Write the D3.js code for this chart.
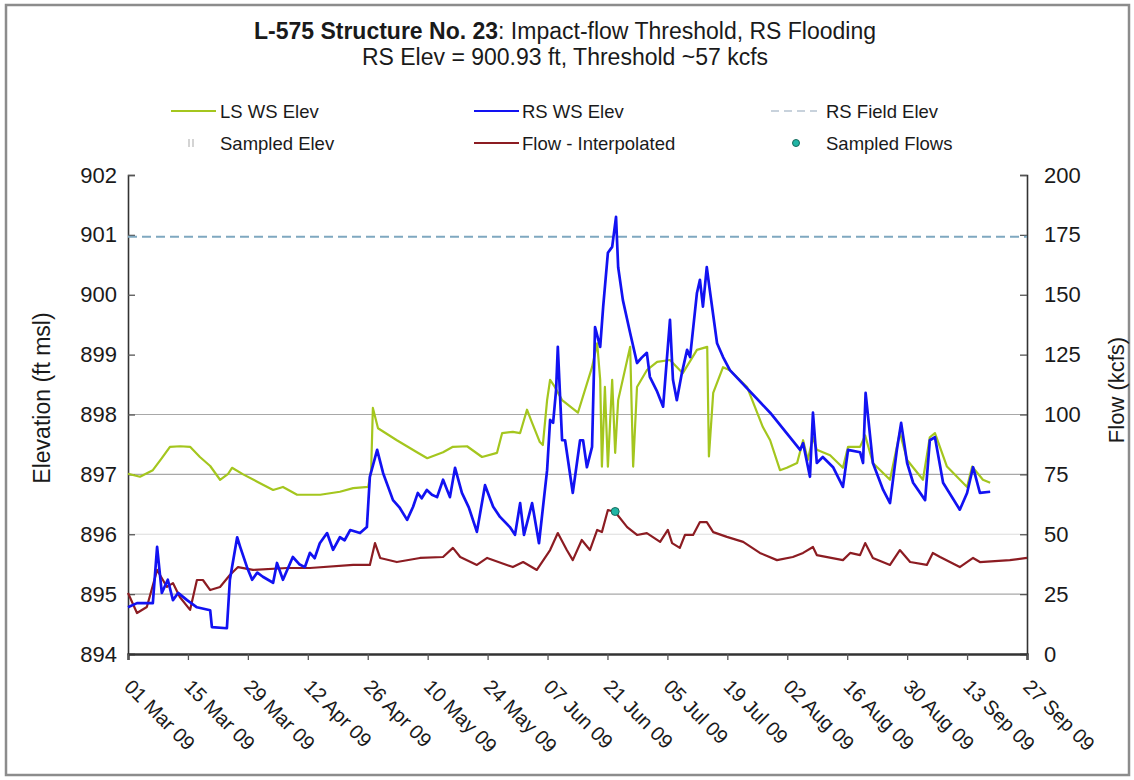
<!DOCTYPE html>
<html><head><meta charset="utf-8">
<script src="https://cdn.jsdelivr.net/npm/d3@7"></script>
<style>
body{margin:0;background:#fff;}
text{font-family:Arial,"Liberation Sans",sans-serif;fill:#1a1a1a;}
</style>
</head><body>
<svg id="chart" width="1134" height="780"></svg>
<script>
// ---------- DATA (day offsets from 01 Mar 2009) ----------
const startDate = Date.UTC(2009, 2, 1);
const tickLabels = ["01 Mar 09","15 Mar 09","29 Mar 09","12 Apr 09","26 Apr 09","10 May 09","24 May 09","07 Jun 09","21 Jun 09","05 Jul 09","19 Jul 09","02 Aug 09","16 Aug 09","30 Aug 09","13 Sep 09","27 Sep 09"];
const tickDays = [0,14,28,42,56,70,84,98,112,126,140,154,168,182,196,210];
const elevTicks = [894,895,896,897,898,899,900,901,902];
const flowTicks = [0,25,50,75,100,125,150,175,200];
const gridElev = [895,896,897,898];
const rsFieldElev = 900.97;

const lsWsElev = [[0,897.01],[2.8,896.96],[5.8,897.07],[7.9,897.27],[9.8,897.46],[12.2,897.47],[14.5,897.46],[16.8,897.29],[19.2,897.14],[21.5,896.91],[23.4,897.01],[24.3,897.11],[26.9,897.0],[30.4,896.87],[33.9,896.74],[36.2,896.79],[39.5,896.66],[44.9,896.66],[49.5,896.71],[52.6,896.77],[56.1,896.79],[56.8,897.07],[57.2,898.11],[58.4,897.77],[62.8,897.57],[67.5,897.37],[69.9,897.27],[73.6,897.37],[75.9,897.46],[79.2,897.47],[82.7,897.29],[86.2,897.36],[87.4,897.69],[89.9,897.71],[91.6,897.69],[93.2,898.08],[94.4,897.86],[96.2,897.54],[96.9,897.49],[97.9,898.24],[98.6,898.58],[99.7,898.46],[101.4,898.24],[105.1,898.03],[108.4,898.79],[109.6,899.19],[110.3,898.58],[110.7,897.13],[111.4,898.46],[112.1,897.13],[113.1,898.58],[113.8,897.36],[114.5,898.24],[117.3,899.13],[118.0,897.13],[118.9,898.46],[121.2,898.74],[123.6,898.88],[126.6,898.91],[129.6,898.69],[132.9,899.08],[135.3,899.13],[135.7,897.3],[136.7,898.36],[139.0,898.79],[140.6,898.74],[144.6,898.46],[148.3,897.79],[150.0,897.57],[152.3,897.07],[153.9,897.11],[156.3,897.19],[157.7,897.57],[158.8,897.24],[160.0,897.62],[160.9,897.41],[164.0,897.32],[167.0,897.11],[168.2,897.46],[171.0,897.46],[172.2,897.65],[174.0,897.19],[178.0,896.91],[180.3,897.7],[182.0,897.24],[185.7,896.91],[187.3,897.62],[188.5,897.69],[191.3,897.13],[196.0,896.79],[197.2,897.13],[199.7,896.91],[201.4,896.86]];

const rsWsElev = [[0,894.78],[2.1,894.85],[5.8,894.85],[6.8,895.79],[7.9,895.02],[9.3,895.24],[10.5,894.9],[11.7,895.02],[13.8,894.9],[16.1,894.78],[19.2,894.73],[19.6,894.45],[23.1,894.43],[23.8,895.24],[25.5,895.95],[26.2,895.79],[27.8,895.45],[29.0,895.24],[30.2,895.36],[31.5,895.29],[33.9,895.19],[34.8,895.52],[36.2,895.24],[38.5,895.62],[40.0,895.5],[41.3,895.45],[42.5,895.69],[43.6,895.6],[44.8,895.85],[46.5,896.02],[47.9,895.74],[49.5,895.95],[50.6,895.9],[51.9,896.07],[54.2,896.02],[55.8,896.12],[56.5,896.96],[58.2,897.41],[59.6,897.02],[61.9,896.57],[63.4,896.45],[65.2,896.24],[66.6,896.46],[67.7,896.69],[68.6,896.6],[69.8,896.74],[71.0,896.66],[72.2,896.62],[73.6,896.91],[75.2,896.62],[76.4,897.11],[78.0,896.69],[79.6,896.45],[81.5,896.04],[83.4,896.82],[85.3,896.46],[86.9,896.29],[89.2,896.12],[90.4,895.99],[91.6,896.52],[92.5,895.99],[94.4,896.52],[96.0,895.85],[97.9,897.07],[98.6,897.91],[99.3,897.86],[100.0,898.41],[100.4,899.13],[101.4,897.57],[102.1,897.57],[103.9,896.69],[105.6,897.57],[106.3,897.57],[107.2,897.12],[108.4,897.46],[109.1,899.46],[110.3,899.13],[111.0,899.8],[112.1,900.7],[113.1,900.8],[114.0,901.3],[114.5,900.46],[115.6,899.91],[117.3,899.36],[118.9,898.86],[120.0,898.95],[121.2,899.03],[121.9,898.63],[123.5,898.4],[125.0,898.13],[126.6,899.58],[127.3,898.58],[128.2,898.24],[129.4,898.7],[130.6,899.08],[131.3,898.96],[132.9,900.03],[133.6,900.25],[134.3,899.8],[135.2,900.46],[135.9,900.08],[137.6,899.19],[139.0,898.96],[140.6,898.74],[150.0,898.03],[157.0,897.41],[157.7,897.52],[159.3,896.96],[160.0,898.03],[160.9,897.19],[162.3,897.29],[164.7,897.12],[167.0,896.79],[168.2,897.41],[171.0,897.37],[171.7,897.19],[172.3,898.36],[174.0,897.19],[176.4,896.74],[178.0,896.52],[179.6,897.41],[180.6,897.86],[182.0,897.19],[183.4,896.86],[186.2,896.57],[187.3,897.57],[188.5,897.62],[190.4,896.86],[194.3,896.41],[196.0,896.69],[197.4,897.12],[199.0,896.69],[201.4,896.71]];

const flowInterp = [[0,25.5],[2.1,17.1],[4.4,19.6],[6.8,35.1],[9.1,28.0],[10.5,29.6],[12.1,23.8],[14.5,18.4],[16.1,30.9],[17.5,30.9],[19.2,26.7],[21.5,28.0],[23.8,33.0],[25.7,36.3],[29.2,35.1],[37.1,35.9],[42.5,35.9],[52.6,37.2],[56.5,37.2],[57.7,46.3],[58.9,40.1],[62.8,38.4],[68.2,40.1],[73.6,40.5],[75.9,44.3],[77.6,40.5],[81.5,37.2],[83.9,40.1],[89.9,36.3],[92.3,38.4],[95.5,35.1],[98.6,43.4],[100.4,50.5],[102.5,43.4],[103.9,39.2],[106.0,47.6],[107.9,43.4],[109.6,51.8],[110.7,50.9],[112.1,60.1],[113.8,59.3],[116.6,53.0],[118.9,49.7],[121.2,50.5],[124.3,46.8],[126.1,51.8],[127.1,46.3],[128.9,44.3],[130.1,49.7],[132.0,49.7],[133.6,55.1],[135.2,55.1],[136.7,50.9],[139.9,48.9],[143.7,46.8],[147.6,42.2],[151.6,39.2],[155.3,40.5],[157.7,42.2],[160.0,44.7],[160.9,41.3],[167.0,39.2],[168.7,42.2],[171.0,41.3],[172.2,46.3],[174.0,40.1],[178.0,37.2],[180.3,43.4],[182.7,38.4],[186.6,37.2],[188.0,42.2],[189.7,40.5],[194.3,36.3],[197.4,40.1],[199.0,38.4],[206.0,39.2],[210,40.1]];

const sampledFlows = [[113.8,59.5]];
const sampledElev = [];

const titleBold = "L-575 Structure No. 23";
const titleRest = ": Impact-flow Threshold, RS Flooding";
const subtitle = "RS Elev = 900.93 ft, Threshold ~57 kcfs";

// ---------- COLORS ----------
const cLS = "#a4c61e", cRS = "#1212f2", cFlow = "#8c1c22", cField = "#7fa8c0", cSamp = "#20b5a5";

const svg = d3.select("#chart");
const toDate = d => new Date(startDate + d * 864e5);
const M = {l:128, r:1027, t:175, b:654};
const x = d3.scaleUtc().domain([toDate(0), toDate(210)]).range([M.l, M.r]);
const yL = d3.scaleLinear().domain([894, 902]).range([M.b, M.t]);
const yR = d3.scaleLinear().domain([0, 200]).range([M.b, M.t]);

// frame
svg.append("rect").attr("x",6).attr("y",5).attr("width",1123).attr("height",770)
  .attr("fill","#fff").attr("stroke","#8c8c8c").attr("stroke-width",2.5);

// title
const t1 = svg.append("text").attr("x",565).attr("y",39).attr("text-anchor","middle").style("font-size","23px");
t1.append("tspan").attr("font-weight","bold").text(titleBold);
t1.append("tspan").text(titleRest);
svg.append("text").attr("x",565).attr("y",65).attr("text-anchor","middle").style("font-size","23px").text(subtitle);

// gridlines
svg.append("g").selectAll("line").data(gridElev).join("line")
  .attr("x1",M.l).attr("x2",M.r).attr("y1",d=>yL(d)).attr("y2",d=>yL(d))
  .attr("stroke",d=>d===896?"#dcdcdc":"#a8a8a8").attr("stroke-width",1.2);

// axes
const axL = svg.append("g").attr("transform",`translate(${M.l},0)`)
  .call(d3.axisLeft(yL).tickValues(elevTicks).tickSize(-7).tickPadding(11).tickFormat(d3.format("d")));
const axR = svg.append("g").attr("transform",`translate(${M.r},0)`)
  .call(d3.axisRight(yR).tickValues(flowTicks).tickSize(-7).tickPadding(17).tickFormat(d3.format("d")));
const axB = svg.append("g").attr("transform",`translate(0,${M.b})`)
  .call(d3.axisBottom(x).tickValues(tickDays.map(toDate)).tickSize(6).tickFormat(""));
[axL,axR,axB].forEach(a=>{
  a.select(".domain").attr("stroke","#333").attr("stroke-width",1.6);
  a.selectAll(".tick line").attr("stroke","#555").attr("stroke-width",1.3);
  a.selectAll("text").style("font-size","22px").attr("fill","#1a1a1a").style("font-family","Arial, 'Liberation Sans', sans-serif");
});
axB.select(".domain").attr("stroke-width",2.4);

// bottom rotated labels
svg.append("g").selectAll("text").data(tickDays).join("text")
  .attr("transform",(d)=>`translate(${x(toDate(d))-5},${M.b+34}) rotate(45)`)
  .style("font-size","20px").text((d,i)=>tickLabels[i]);

// axis titles
svg.append("text").attr("transform","translate(50,398) rotate(-90)").attr("text-anchor","middle")
  .style("font-size","23px").text("Elevation (ft msl)");
svg.append("text").attr("transform","translate(1124,390) rotate(-90)").attr("text-anchor","middle")
  .style("font-size","22px").text("Flow (kcfs)");

// series
const lineL = d3.line().x(d=>x(toDate(d[0]))).y(d=>yL(d[1]));
const lineR = d3.line().x(d=>x(toDate(d[0]))).y(d=>yR(d[1]));

svg.append("line").attr("x1",M.l).attr("x2",M.r).attr("y1",yL(rsFieldElev)).attr("y2",yL(rsFieldElev))
  .attr("stroke",cField).attr("stroke-width",2).attr("stroke-dasharray","9,5");

svg.append("path").datum(flowInterp).attr("d",lineR).attr("fill","none").attr("stroke",cFlow).attr("stroke-width",2.2).attr("stroke-linejoin","round");
svg.append("path").datum(lsWsElev).attr("d",lineL).attr("fill","none").attr("stroke",cLS).attr("stroke-width",2.2).attr("stroke-linejoin","round");
svg.append("path").datum(rsWsElev).attr("d",lineL).attr("fill","none").attr("stroke",cRS).attr("stroke-width",2.7).attr("stroke-linejoin","round");

svg.append("g").selectAll("circle").data(sampledFlows).join("circle")
  .attr("cx",d=>x(toDate(d[0]))).attr("cy",d=>yR(d[1])).attr("r",4)
  .attr("fill",cSamp).attr("stroke","#176a5c").attr("stroke-width",1);

// legend
const lg = svg.append("g").style("font-size","18.5px");
function legLine(x1,x2,y,col,dash){ lg.append("line").attr("x1",x1).attr("x2",x2).attr("y1",y).attr("y2",y).attr("stroke",col).attr("stroke-width",2.2).attr("stroke-dasharray",dash||null); }
function legText(xp,y,s){ lg.append("text").attr("x",xp).attr("y",y+6.5).text(s); }
legLine(171,216,111,cLS); legText(220,111,"LS WS Elev");
legLine(474,519,111,cRS); legText(522,111,"RS WS Elev");
legLine(771,817,111,"#c8d2dc","8,5"); legText(826,111,"RS Field Elev");
lg.append("line").attr("x1",189).attr("x2",189).attr("y1",139).attr("y2",147).attr("stroke","#b8b8b8").attr("stroke-width",1.2);
lg.append("line").attr("x1",193).attr("x2",193).attr("y1",139).attr("y2",147).attr("stroke","#b8b8b8").attr("stroke-width",1.2);
legText(220,143,"Sampled Elev");
legLine(474,519,143,cFlow); legText(522,143,"Flow - Interpolated");
lg.append("circle").attr("cx",796).attr("cy",143).attr("r",3.5).attr("fill",cSamp).attr("stroke","#176a5c");
legText(826,143,"Sampled Flows");
</script>
</body></html>
